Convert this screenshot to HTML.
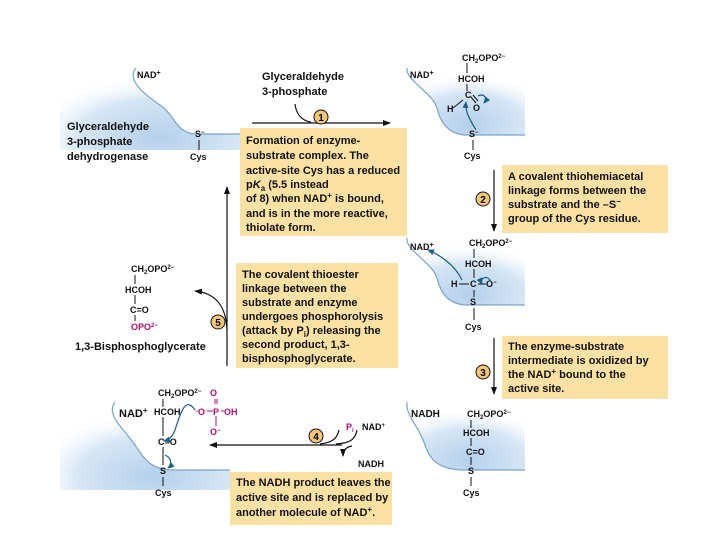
<!DOCTYPE html>
<html><head><meta charset="utf-8"><style>
html,body{margin:0;padding:0;background:#fff;}
svg{display:block;font-family:"Liberation Sans",Arial,sans-serif;font-weight:bold;}
.t{font-size:11px;fill:#111;}
.s{font-size:9px;fill:#111;}
.m{fill:#b0106e;}
</style></head><body>
<svg width="720" height="540" viewBox="0 0 720 540" xmlns="http://www.w3.org/2000/svg">
<defs>
<radialGradient id="rg" cx="0.55" cy="0.85" r="0.75"><stop offset="0" stop-color="#b4d0ec"/><stop offset="0.6" stop-color="#d6e6f5"/><stop offset="1" stop-color="#ffffff" stop-opacity="0"/></radialGradient>
<marker id="ah" markerWidth="8" markerHeight="8" refX="7" refY="4" orient="auto" markerUnits="userSpaceOnUse"><path d="M0,1 L8,4 L0,7 Z" fill="#111"/></marker>
<marker id="bh" markerWidth="7" markerHeight="7" refX="6" refY="3.5" orient="auto" markerUnits="userSpaceOnUse"><path d="M0,0.5 L7,3.5 L0,6.5 Z" fill="#1f5f86"/></marker>
</defs>

<!-- enzyme blue regions -->
<g>
<path d="M60,65 L136,65 C126,80 145,95 160,105 C175,115 175,132 195,134 L240,134 L240,150 L60,150 Z" fill="url(#rg)"/>
<path d="M136,68 C126,80 145,95 160,105 C175,115 175,132 195,134 L240,134" fill="none" stroke="#7aa3c6" stroke-width="1.2"/>
<path d="M400,65 L525,65 L525,135 L465,135 C450,134 441,125 437,108 C432,92 405,80 407,68 Z" fill="url(#rg)"/>
<path d="M407,68 C405,80 432,92 437,108 C441,125 450,134 465,135 L525,135" fill="none" stroke="#7aa3c6" stroke-width="1.2"/>
<path d="M400,235 L525,235 L525,305 L465,305 C450,304 441,295 437,278 C432,262 405,250 407,238 Z" fill="url(#rg)"/>
<path d="M407,238 C405,250 432,262 437,278 C441,295 450,304 465,305 L525,305" fill="none" stroke="#7aa3c6" stroke-width="1.2"/>
<path d="M60,400 L115,400 C105,415 125,430 135,445 C145,460 150,468 170,470 L230,470 L230,490 L60,490 Z" fill="url(#rg)"/>
<path d="M115,402 C105,415 125,430 135,445 C145,460 150,468 170,470 L230,470" fill="none" stroke="#7aa3c6" stroke-width="1.2"/>
<path d="M400,400 L525,400 L525,470 L460,470 C438,468 430,460 425,445 C420,428 405,415 407,402 Z" fill="url(#rg)"/>
<path d="M407,402 C405,415 420,428 425,445 C430,460 438,468 460,470 L525,470" fill="none" stroke="#7aa3c6" stroke-width="1.2"/>
</g>

<!-- yellow boxes -->
<rect x="240" y="128" width="167" height="108" fill="#fbe2a4"/>
<rect x="502" y="165" width="166" height="68" fill="#fbe2a4"/>
<rect x="236" y="263" width="162" height="105" fill="#fbe2a4"/>
<rect x="502" y="336" width="166" height="63" fill="#fbe2a4"/>
<rect x="230" y="472" width="162" height="53" fill="#fbe2a4"/>

<g class="t">
<text x="246" y="144">Formation of enzyme-</text>
<text x="246" y="159">substrate complex. The</text>
<text x="246" y="174">active-site Cys has a reduced</text>
<text x="246" y="188">p<tspan font-style="italic">K</tspan><tspan font-size="8" dy="3">a</tspan><tspan dy="-3"> (5.5 instead</tspan></text>
<text x="246" y="202">of 8) when NAD<tspan font-size="8" dy="-4">+</tspan><tspan dy="4"> is bound,</tspan></text>
<text x="246" y="217">and is in the more reactive,</text>
<text x="246" y="231">thiolate form.</text>

<text x="508" y="180">A covalent thiohemiacetal</text>
<text x="508" y="194">linkage forms between the</text>
<text x="508" y="208">substrate and the –S<tspan font-size="8" dy="-4">−</tspan></text>
<text x="508" y="222">group of the Cys residue.</text>

<text x="242" y="278">The covalent thioester</text>
<text x="242" y="292">linkage between the</text>
<text x="242" y="306">substrate and enzyme</text>
<text x="242" y="320">undergoes phosphorolysis</text>
<text x="242" y="334">(attack by P<tspan font-size="8" dy="3">i</tspan><tspan dy="-3">) releasing the</tspan></text>
<text x="242" y="348">second product, 1,3-</text>
<text x="242" y="362">bisphosphoglycerate.</text>

<text x="508" y="350">The enzyme-substrate</text>
<text x="508" y="364">intermediate is oxidized by</text>
<text x="508" y="378">the NAD<tspan font-size="8" dy="-4">+</tspan><tspan dy="4"> bound to the</tspan></text>
<text x="508" y="392">active site.</text>

<text x="236" y="486">The NADH product leaves the</text>
<text x="236" y="501">active site and is replaced by</text>
<text x="236" y="516">another molecule of NAD<tspan font-size="8" dy="-4">+</tspan><tspan dy="4">.</tspan></text>

<text x="67" y="130">Glyceraldehyde</text>
<text x="67" y="145">3-phosphate</text>
<text x="67" y="160">dehydrogenase</text>
<text x="262" y="80">Glyceraldehyde</text>
<text x="262" y="95">3-phosphate</text>
<text x="75" y="350">1,3-Bisphosphoglycerate</text>
</g>

<g class="s">
<text x="137" y="78">NAD<tspan font-size="7" dy="-3">+</tspan></text>
<text x="410" y="78">NAD<tspan font-size="7" dy="-3">+</tspan></text>
<text x="410" y="250">NAD<tspan font-size="7" dy="-3">+</tspan></text>
<text x="119" y="417" font-size="11">NAD<tspan font-size="8" dy="-4">+</tspan></text>
<text x="411" y="417" font-size="10">NADH</text>
<text x="195" y="137">S<tspan font-size="6" dy="-3">−</tspan></text>
<text x="190" y="160">Cys</text>
<text x="462" y="61">CH<tspan font-size="6" dy="2">2</tspan><tspan dy="-2">OPO</tspan><tspan font-size="6" dy="-3">2−</tspan></text>
<text x="458" y="82">HCOH</text>
<text x="465" y="98">C</text>
<text x="447" y="112">H</text>
<text x="473" y="111">O</text>
<text x="469" y="137">S<tspan font-size="6" dy="-3">−</tspan></text>
<text x="464" y="159">Cys</text>
<text x="469" y="246">CH<tspan font-size="6" dy="2">2</tspan><tspan dy="-2">OPO</tspan><tspan font-size="6" dy="-3">2−</tspan></text>
<text x="465" y="267">HCOH</text>
<text x="451" y="287">H</text>
<text x="470" y="287">C</text>
<text x="486" y="287">O<tspan font-size="6" dy="-3">−</tspan></text>
<text x="470" y="305">S</text>
<text x="465" y="330">Cys</text>
<text x="467" y="417">CH<tspan font-size="6" dy="2">2</tspan><tspan dy="-2">OPO</tspan><tspan font-size="6" dy="-3">2−</tspan></text>
<text x="463" y="436">HCOH</text>
<text x="466" y="455">C=O</text>
<text x="468" y="474">S</text>
<text x="463" y="496">Cys</text>
<text x="158" y="396">CH<tspan font-size="6" dy="2">2</tspan><tspan dy="-2">OPO</tspan><tspan font-size="6" dy="-3">2−</tspan></text>
<text x="154" y="415">HCOH</text>
<text x="158" y="445">C=O</text>
<text x="160" y="474">S</text>
<text x="155" y="496">Cys</text>
<text x="198" y="415" class="m">O</text><text x="224" y="415" class="m">OH</text>
<text x="213" y="415" class="m">P</text>
<text x="195" y="413" class="m" font-size="6">−</text>
<text x="210" y="396" class="m">O</text>
<text x="210" y="435" class="m">O<tspan font-size="6" dy="-3">−</tspan></text>
<text x="346" y="430" class="m">P<tspan font-size="6" dy="2">i</tspan></text>
<text x="362" y="430">NAD<tspan font-size="6" dy="-3">+</tspan></text>
<text x="358" y="467">NADH</text>
<text x="131" y="272">CH<tspan font-size="6" dy="2">2</tspan><tspan dy="-2">OPO</tspan><tspan font-size="6" dy="-3">2−</tspan></text>
<text x="125" y="293">HCOH</text>
<text x="130" y="313">C=O</text>
<text x="131" y="330" class="m">OPO<tspan font-size="6" dy="-3">2−</tspan></text>
</g>
<g stroke="#111" stroke-width="1">
<line x1="199" y1="140" x2="199" y2="150"/>
<line x1="467" y1="63" x2="467" y2="73"/><line x1="467" y1="84" x2="467" y2="91"/>
<line x1="453" y1="108" x2="463" y2="100"/><line x1="471" y1="97" x2="476" y2="103"/><line x1="473" y1="95" x2="478" y2="101"/>
<line x1="473" y1="140" x2="473" y2="150"/>
<line x1="474" y1="249" x2="474" y2="258"/><line x1="474" y1="269" x2="474" y2="278"/>
<line x1="459" y1="284" x2="469" y2="284"/><line x1="478" y1="284" x2="486" y2="284"/>
<line x1="474" y1="290" x2="474" y2="297"/><line x1="474" y1="308" x2="474" y2="320"/>
<line x1="471" y1="420" x2="471" y2="428"/><line x1="471" y1="438" x2="471" y2="446"/>
<line x1="471" y1="457" x2="471" y2="465"/><line x1="471" y1="477" x2="471" y2="486"/>
<line x1="163" y1="399" x2="163" y2="407"/><line x1="163" y1="417" x2="163" y2="436"/>
<line x1="163" y1="447" x2="163" y2="465"/><line x1="163" y1="477" x2="163" y2="486"/>
<line x1="135" y1="275" x2="135" y2="284"/><line x1="135" y1="295" x2="135" y2="304"/><line x1="135" y1="315" x2="135" y2="321"/>
</g>
<g stroke="#b0106e" stroke-width="1">
<line x1="207" y1="411" x2="213" y2="411"/><line x1="221" y1="411" x2="224" y2="411"/>
<line x1="215" y1="399" x2="215" y2="404"/><line x1="217" y1="399" x2="217" y2="404"/>
<line x1="216" y1="416" x2="216" y2="426"/>
</g>
<g fill="none" stroke="#1f5f86" stroke-width="1.2">
<path d="M476,130 C470,120 465,112 466,102" marker-end="url(#bh)"/>
<path d="M478,96 C484,93 488,98 484,103" marker-end="url(#bh)"/>
<path d="M462,280 C455,265 440,255 428,250" marker-end="url(#bh)"/>
<path d="M491,282 C488,274 479,278 482,284" marker-end="url(#bh)"/>
<path d="M195,410 C185,395 180,415 175,430 C172,438 168,440 164,441" marker-end="url(#bh)"/>
<path d="M165,455 C172,458 172,465 168,468" marker-end="url(#bh)"/>
</g>
<g stroke="#111" stroke-width="1.2" fill="none">
<line x1="252" y1="123" x2="390" y2="123" marker-end="url(#ah)"/>
<path d="M295,104 C296,114 302,121 311,122"/>
<line x1="494" y1="170" x2="494" y2="231" marker-end="url(#ah)"/>
<line x1="494" y1="338" x2="494" y2="394" marker-end="url(#ah)"/>
<line x1="342" y1="445" x2="210" y2="445" marker-end="url(#ah)"/>
<path d="M320,444 C330,443 337,440 339,430"/>
<path d="M336,444 C350,443 355,440 357,430"/>
<path d="M352,446 C346,447 343,450 343,456" marker-end="url(#ah)"/>
<line x1="227" y1="366" x2="227" y2="187" marker-end="url(#ah)"/>
<path d="M227,330 C226,305 215,293 195,291" marker-end="url(#ah)"/>
</g>
<g font-size="10" text-anchor="middle">
<circle cx="321" cy="117" r="7" fill="#f3c77a" stroke="#111" stroke-width="1"/><text x="321" y="121">1</text>
<circle cx="483" cy="199" r="7" fill="#f3c77a" stroke="#111" stroke-width="1"/><text x="483" y="203">2</text>
<circle cx="483" cy="372" r="7" fill="#f3c77a" stroke="#111" stroke-width="1"/><text x="483" y="376">3</text>
<circle cx="316" cy="436" r="7" fill="#f3c77a" stroke="#111" stroke-width="1"/><text x="316" y="440">4</text>
<circle cx="218" cy="322" r="7" fill="#f3c77a" stroke="#111" stroke-width="1"/><text x="218" y="326">5</text>
</g>
</svg>
</body></html>
